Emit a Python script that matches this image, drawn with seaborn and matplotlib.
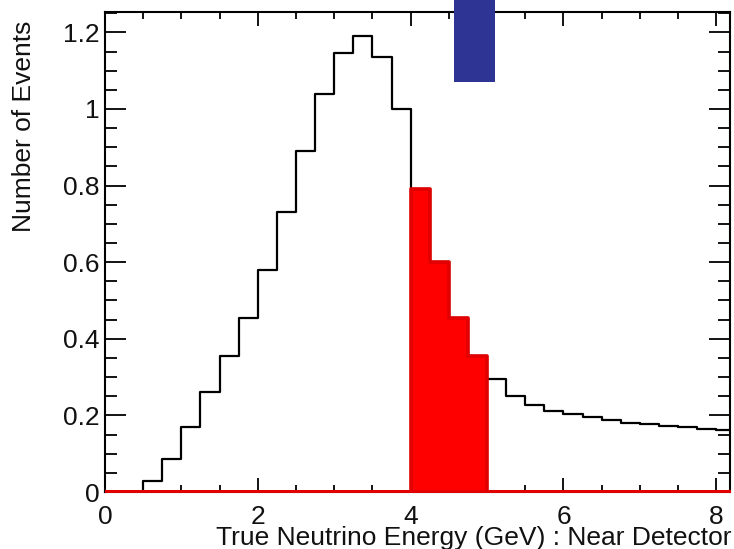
import numpy as np
import pandas as pd
import matplotlib
matplotlib.use("Agg")
import matplotlib.pyplot as plt
from matplotlib.patches import Rectangle
from matplotlib.ticker import MultipleLocator, FormatStrFormatter
import seaborn as sns

# ---- data ----
bin_edges = [round(0.25 * i, 2) for i in range(34)]
all_events = [0.0, 0.0, 0.03, 0.085, 0.17, 0.26, 0.355, 0.455,
              0.58, 0.73, 0.89, 1.04, 1.145, 1.19, 1.135, 1.0,
              0.79, 0.60, 0.455, 0.355,
              0.295, 0.25, 0.227, 0.212,
              0.203, 0.195, 0.187, 0.181, 0.177, 0.172, 0.169, 0.165,
              0.162]
selected_events = [0.0] * 16 + [0.79, 0.60, 0.455, 0.355] + [0.0] * 13
x_ticks = [0, 2, 4, 6, 8]
y_ticks = [0, 0.2, 0.4, 0.6, 0.8, 1.0, 1.2]

edges = np.array(bin_edges)
centers = (edges[:-1] + edges[1:]) / 2
df = pd.DataFrame({"energy": centers, "all": all_events, "sel": selected_events})

sns.set_theme(style="ticks")
plt.rcParams["font.family"] = ["Liberation Sans", "DejaVu Sans"]
plt.rcParams["text.color"] = "#111111"
plt.rcParams["axes.labelcolor"] = "#111111"

fig = plt.figure(figsize=(7.34, 5.49), dpi=100)
ax = fig.add_axes([0.143, 0.1038, 0.8516, 0.8742])

sns.histplot(data=df, x="energy", weights="all", bins=bin_edges, element="step",
             fill=False, color="black", linewidth=1.6, ax=ax, zorder=2)
sns.histplot(data=df, x="energy", weights="sel", bins=bin_edges, element="step",
             fill=True, color="#ff0000", alpha=1.0, edgecolor="#e00000",
             linewidth=2.6, ax=ax, zorder=4)

ax.set_xlim(0, 8.18)
ax.set_ylim(0, 1.253)

ax.add_patch(Rectangle((4.57, 1.071), 0.54, 0.5, facecolor="#2d3494",
                       edgecolor="none", clip_on=False, zorder=5))

ax.set_xticks(x_ticks)
ax.set_yticks(y_ticks)
ax.xaxis.set_minor_locator(MultipleLocator(0.5))
ax.yaxis.set_minor_locator(MultipleLocator(0.05))
ax.yaxis.set_major_formatter(FormatStrFormatter("%g"))
ax.xaxis.set_major_formatter(FormatStrFormatter("%g"))

ax.tick_params(axis="both", which="both", direction="in", top=True, right=True,
               colors="black", labelcolor="#111111", labelsize=19, width=1.3)
ax.tick_params(axis="y", which="major", length=15, pad=4)
ax.tick_params(axis="y", which="minor", length=8.5)
ax.tick_params(axis="x", which="major", length=10, pad=9)
ax.tick_params(axis="x", which="minor", length=5)

for s in ax.spines.values():
    s.set_linewidth(1.5)
    s.set_color("black")

ax.set_xlabel("True Neutrino Energy (GeV) : Near Detector", fontsize=19, loc="right")
ax.set_ylabel("Number of Events", fontsize=19, loc="top")
ax.xaxis.set_label_coords(1.003, -0.070)
ax.yaxis.set_label_coords(-0.110, 0.983)

fig.savefig("out.png", dpi=100, facecolor="white")
